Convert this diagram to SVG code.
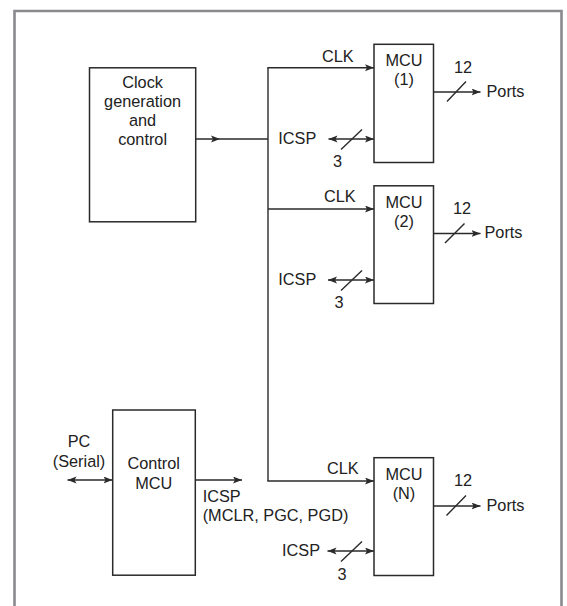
<svg xmlns="http://www.w3.org/2000/svg" width="567" height="606" viewBox="0 0 567 606">
<style>
  .box { fill: #fff; stroke: #2a2a2a; stroke-width: 1.5; }
  .ln { fill: none; stroke: #2a2a2a; stroke-width: 1.4; }
  .arr { fill: none; stroke: #2a2a2a; stroke-width: 1.4; marker-end: url(#ah); }
  .dbl { fill: none; stroke: #2a2a2a; stroke-width: 1.4; marker-end: url(#ah); marker-start: url(#ah); }
  .t { font-family: "Liberation Sans", Arial, sans-serif; font-size: 16.3px; fill: #222; }
  .c { text-anchor: middle; }
  .frame { fill: none; stroke: #8a8a8e; stroke-width: 2.6; }
</style>
<defs>
  <marker id="ah" markerUnits="userSpaceOnUse" markerWidth="10" markerHeight="8" refX="9" refY="3.5" orient="auto-start-reverse">
    <path d="M0,0 L9,3.5 L0,7 L2,3.5 Z" fill="#2a2a2a"/>
  </marker>
</defs>
<rect width="567" height="606" fill="#fff"/>
<path class="frame" d="M14.5,606 V11 H561.5 V606"/>

<g id="connectors">
  <!-- clock to bus -->
  <line class="ln" x1="196" y1="139" x2="268" y2="139"/>
  <path d="M211,135.5 L220,139 L211,142.5 L213,139 Z" fill="#2a2a2a"/>
  <!-- bus -->
  <line class="ln" x1="268" y1="67.7" x2="268" y2="481"/>
  <line class="arr" x1="267.3" y1="67.7" x2="374" y2="67.7"/>
  <line class="arr" x1="268" y1="209" x2="374" y2="209"/>
  <line class="arr" x1="267.3" y1="481" x2="374" y2="481"/>
  <!-- ICSP to MCUs -->
  <line class="dbl" x1="328.5" y1="139" x2="374" y2="139"/>
  <line class="ln" x1="341" y1="149.5" x2="362" y2="129.5"/>
  <line class="dbl" x1="328" y1="280" x2="374" y2="280"/>
  <line class="ln" x1="341" y1="290.5" x2="362" y2="270.5"/>
  <line class="dbl" x1="327.5" y1="551" x2="374" y2="551"/>
  <line class="ln" x1="341" y1="561.5" x2="362" y2="541.5"/>
  <!-- Ports -->
  <line class="arr" x1="434" y1="92" x2="480.5" y2="92"/>
  <line class="ln" x1="447" y1="101.5" x2="466" y2="81.5"/>
  <line class="arr" x1="434" y1="233.5" x2="480.5" y2="233.5"/>
  <line class="ln" x1="445" y1="243" x2="464.5" y2="223.5"/>
  <line class="arr" x1="434" y1="506" x2="480.5" y2="506"/>
  <line class="ln" x1="446.5" y1="515.5" x2="466" y2="495.5"/>
  <!-- Control MCU -->
  <line class="dbl" x1="67.5" y1="480" x2="112.5" y2="480"/>
  <line class="arr" x1="195.5" y1="480" x2="242" y2="480"/>
</g>

<g id="clock">
  <rect class="box" x="89.5" y="67.8" width="106.2" height="154"/>
  <text class="t c" x="142.6" y="88.3">Clock</text>
  <text class="t c" x="142.6" y="107">generation</text>
  <text class="t c" x="142.6" y="126">and</text>
  <text class="t c" x="142.6" y="145.2">control</text>
</g>

<g id="mcu1">
  <rect class="box" x="374" y="44.3" width="59.5" height="118.2"/>
  <text class="t c" x="404" y="65.7">MCU</text>
  <text class="t c" x="404" y="84.8">(1)</text>
</g>
<g id="mcu2">
  <rect class="box" x="374" y="185.8" width="59.5" height="117.7"/>
  <text class="t c" x="404" y="208.2">MCU</text>
  <text class="t c" x="404" y="227">(2)</text>
</g>
<g id="mcuN">
  <rect class="box" x="374" y="457.7" width="59.5" height="117.8"/>
  <text class="t c" x="404" y="480">MCU</text>
  <text class="t c" x="404" y="499">(N)</text>
</g>
<g id="control">
  <rect class="box" x="112.7" y="410" width="82.6" height="165.2"/>
  <text class="t c" x="153.7" y="469">Control</text>
  <text class="t c" x="153.7" y="489">MCU</text>
</g>

<g id="labels">
  <text class="t" x="322" y="61.7">CLK</text>
  <text class="t" x="324" y="201.8">CLK</text>
  <text class="t" x="327" y="474">CLK</text>
  <text class="t" x="278.3" y="144">ICSP</text>
  <text class="t" x="278.3" y="285">ICSP</text>
  <text class="t" x="282" y="556">ICSP</text>
  <text class="t c" x="337.5" y="167">3</text>
  <text class="t c" x="339" y="308">3</text>
  <text class="t c" x="342" y="580">3</text>
  <text class="t c" x="463" y="72.8">12</text>
  <text class="t c" x="462" y="213.5">12</text>
  <text class="t c" x="463" y="485.7">12</text>
  <text class="t" x="486.5" y="96.8">Ports</text>
  <text class="t" x="484.5" y="238.2">Ports</text>
  <text class="t" x="486.5" y="510.5">Ports</text>
  <text class="t c" x="79" y="447">PC</text>
  <text class="t c" x="79" y="466.5">(Serial)</text>
  <text class="t" x="202.7" y="501.6">ICSP</text>
  <text class="t" x="202.7" y="521">(MCLR, PGC, PGD)</text>
</g>
</svg>
